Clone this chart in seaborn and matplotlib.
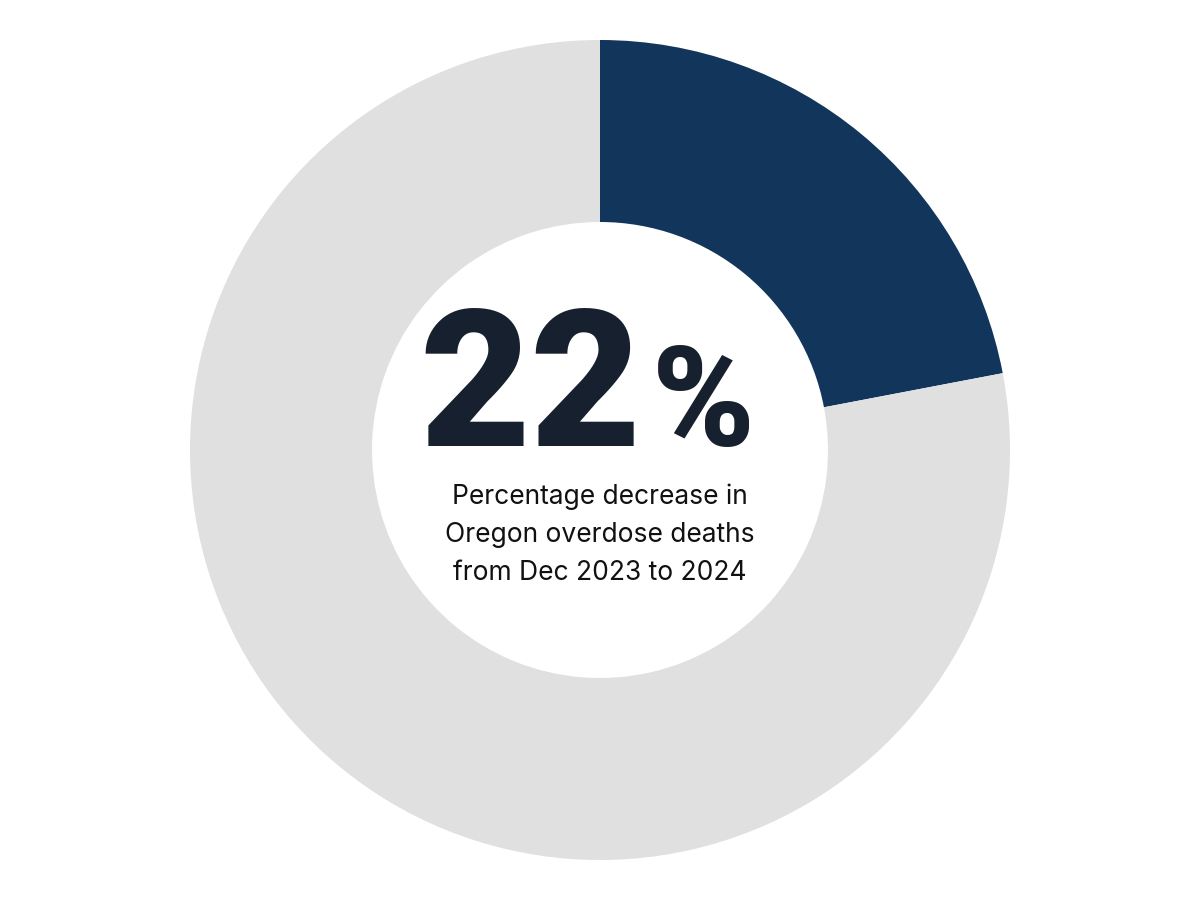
import matplotlib.pyplot as plt
import seaborn as sns

# Data
labels = ["Decrease", "Remainder"]
values = [22, 78]
colors = ["#12355b", "#e0e0e0"]
headline_number = "22"
headline_sign = "%"
caption_lines = ["Percentage decrease in", "Oregon overdose deaths", "from Dec 2023 to 2024"]

sns.set_style("white")
plt.rcParams['font.family'] = ['Roboto', 'DejaVu Sans']

fig = plt.figure(figsize=(12, 9), dpi=100)
ax = fig.add_axes([0, 0, 1, 1])

ax.pie(values, colors=colors, startangle=90, counterclock=False, radius=410,
       wedgeprops=dict(width=182, linewidth=0), frame=True)
ax.set_xlim(-600, 600)
ax.set_ylim(-450, 450)
ax.set_aspect("equal")
ax.axis("off")

ax.text(42, 4, headline_number, ha="right", va="baseline", fontsize=138,
        fontweight="black", color="#17202e")
ax.text(52, 4, headline_sign, ha="left", va="baseline", fontsize=100,
        fontweight="black", color="#17202e")
for i, line in enumerate(caption_lines):
    ax.text(0, -54 - i * 38, line, ha="center", va="baseline", fontsize=19,
            color="#111111", family=['Inter', 'DejaVu Sans'])

fig.savefig("out.png", dpi=100)
